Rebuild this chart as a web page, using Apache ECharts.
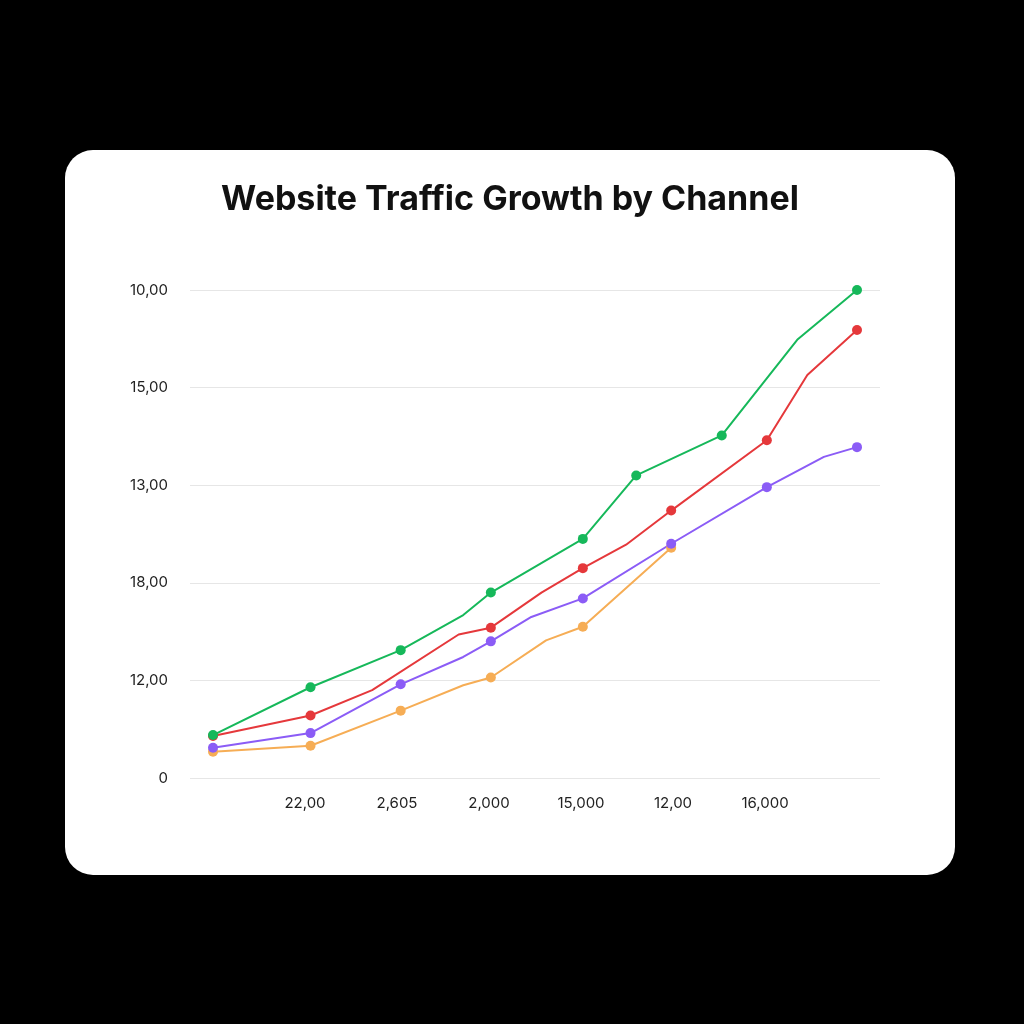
<!DOCTYPE html>
<html>
<head>
<meta charset="utf-8">
<script src="https://cdn.jsdelivr.net/npm/echarts@6/dist/echarts.min.js"></script>
<style>
  html, body { margin: 0; padding: 0; background: #000; }
  #card { position: absolute; left: 65px; top: 150px; width: 890px; height: 725px;
          background: #fff; border-radius: 28px; }
  #chart { width: 890px; height: 725px; }
</style>
</head>
<body>
<div id="card"><div id="chart"></div></div>
<script>
// tick labels as printed on the picture
var xLabels = ['MAN', '22,00', '2,605', '2,000', '15,000', '12,00', '16,000', '12,000'];
var yLabels = ['0', '12,00', '18,00', '13,00', '15,00', '10,00'];

// x positions (category units), values (grid units), marker flags
var greenX = [0, 1.06, 2.04, 2.72, 3.02, 4.02, 4.6, 5.53, 6.35, 7];
var greenY = [0.44, 0.93, 1.31, 1.67, 1.90, 2.45, 3.10, 3.51, 4.49, 5.0];
var greenM = [1, 1, 1, 0, 1, 1, 1, 1, 0, 1];

var redX = [0, 1.06, 1.73, 2.67, 3.02, 3.57, 4.02, 4.49, 4.98, 6.02, 6.46, 7];
var redY = [0.43, 0.64, 0.90, 1.47, 1.54, 1.90, 2.15, 2.39, 2.74, 3.46, 4.13, 4.59];
var redM = [1, 1, 0, 0, 1, 0, 1, 0, 1, 1, 0, 1];

var purpleX = [0, 1.06, 2.04, 2.72, 3.02, 3.46, 4.02, 4.98, 6.02, 6.64, 7];
var purpleY = [0.31, 0.46, 0.96, 1.24, 1.40, 1.65, 1.84, 2.40, 2.98, 3.29, 3.39];
var purpleM = [1, 1, 1, 0, 1, 0, 1, 1, 1, 0, 1];

var orangeX = [0, 1.06, 2.04, 2.72, 3.02, 3.62, 4.02, 4.98];
var orangeY = [0.27, 0.33, 0.69, 0.95, 1.03, 1.41, 1.55, 2.36];
var orangeM = [1, 1, 1, 0, 1, 0, 1, 1];

function build(xs, ys, ms) {
    return xs.map(function (x, i) {
        var d = { value: [x, ys[i]] };
        if (!ms[i]) d.symbol = 'none';
        return d;
    });
}

function line(name, color, xs, ys, ms) {
    return {
        name: name, type: 'line',
        data: build(xs, ys, ms),
        symbol: 'circle', symbolSize: 10,
        lineStyle: { color: color, width: 2 },
        itemStyle: { color: color },
        z: 3
    };
}

var chart = echarts.init(document.getElementById('chart'));
chart.setOption({
    animation: false,
    title: {
        text: 'Website Traffic Growth by Channel',
        left: 'center', top: 28,
        textStyle: { fontSize: 34, fontWeight: 'bold', color: '#111', fontFamily: 'Inter' }
    },
    grid: { left: 125, right: 75, top: 140, bottom: 97 },
    xAxis: {
        type: 'value', min: -0.25, max: 7.25, interval: 1,
        axisLine: { show: false }, axisTick: { show: false }, splitLine: { show: false },
        axisLabel: {
            margin: 18, fontSize: 15, color: '#222', fontFamily: 'Inter',
            showMinLabel: false, showMaxLabel: false,
            customValues: [0, 1, 2, 3, 4, 5, 6, 7],
            formatter: function (v) { return xLabels[Math.round(v)] || ''; }
        }
    },
    yAxis: {
        type: 'value', min: 0, max: 5, interval: 1,
        axisLine: { show: false }, axisTick: { show: false },
        splitLine: { lineStyle: { color: '#e6e6e6' } },
        axisLabel: {
            margin: 22, fontSize: 15, color: '#222', fontFamily: 'Inter',
            formatter: function (v) { return yLabels[Math.round(v)]; }
        }
    },
    series: [
        line('Orange', '#f6ad55', orangeX, orangeY, orangeM),
        line('Purple', '#8b5cf6', purpleX, purpleY, purpleM),
        line('Red', '#e5383b', redX, redY, redM),
        line('Green', '#16b85a', greenX, greenY, greenM)
    ]
});
</script>
</body>
</html>
